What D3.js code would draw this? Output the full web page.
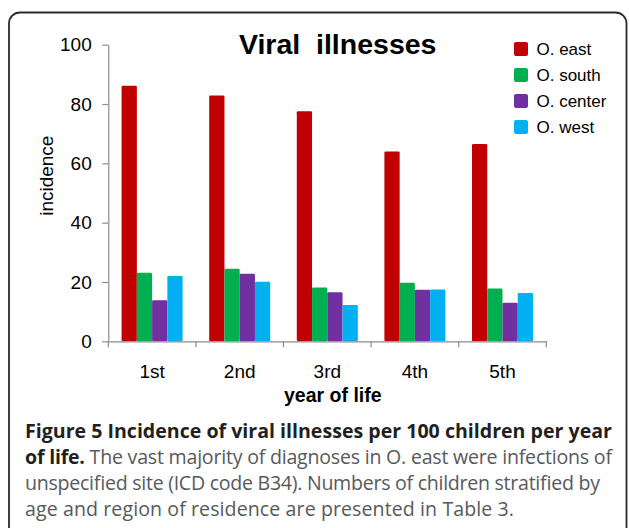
<!DOCTYPE html>
<html>
<head>
<meta charset="utf-8">
<script src="https://cdn.jsdelivr.net/npm/d3@7"></script>
<style>
  html, body { margin: 0; padding: 0; background: #fff; }
  svg { display: block; }
</style>
</head>
<body>
<svg id="chart" width="629" height="528"></svg>
<script>
// ---- data ----
const categories = ["1st", "2nd", "3rd", "4th", "5th"];
const seriesNames = ["O. east", "O. south", "O. center", "O. west"];
const eastValues   = [86.2, 82.9, 77.6, 64.0, 66.5];
const southValues  = [23.1, 24.5, 18.1, 19.7, 17.8];
const centerValues = [13.8, 22.8, 16.5, 17.4, 13.0];
const westValues   = [22.0, 20.1, 12.2, 17.5, 16.3];
const seriesColors = ["#C00000", "#00B050", "#7030A0", "#00B0F0"];
const yTicks = [0, 20, 40, 60, 80, 100];
const chartTitle = "Viral  illnesses";
const xTitle = "year of life";
const yTitle = "incidence";
const captionBold1 = "Figure 5 Incidence of viral illnesses per 100 children per year";
const captionBold2 = "of life.";
const captionRest2 = " The vast majority of diagnoses in O. east were infections of";
const captionLine3 = "unspecified site (ICD code B34). Numbers of children stratified by";
const captionLine4 = "age and region of residence are presented in Table 3.";

const seriesValues = [eastValues, southValues, centerValues, westValues];

const svg = d3.select("#chart");
const chartFont = "'Liberation Sans', Arial, Helvetica, sans-serif";

// frame
svg.append("rect")
  .attr("x", 9).attr("y", 12.5)
  .attr("width", 617.5).attr("height", 580)
  .attr("rx", 11).attr("ry", 11)
  .attr("fill", "none").attr("stroke", "#2b2b2b").attr("stroke-width", 1.8);

// scales
const x = d3.scaleBand().domain(categories).range([108.3, 546.3]).paddingInner(0).paddingOuter(0);
const xs = d3.scaleBand().domain(seriesNames).range([0, x.bandwidth()]).paddingInner(0).paddingOuter(0.872);
const y = d3.scaleLinear().domain([0, 100]).range([341.3, 44.7]);

// bars
const g = svg.append("g");
categories.forEach((c, ci) => {
  seriesNames.forEach((s, si) => {
    const v = seriesValues[si][ci];
    g.append("rect")
      .attr("x", x(c) + xs(s))
      .attr("y", y(v))
      .attr("width", xs.bandwidth())
      .attr("height", y(0) - y(v))
      .attr("rx", 1.2)
      .attr("fill", seriesColors[si]);
  });
});

// y axis
const yAxis = svg.append("g")
  .attr("transform", `translate(${x.range()[0]},0)`)
  .call(d3.axisLeft(y).tickValues(yTicks).tickSize(6).tickSizeOuter(0).tickPadding(10.6));
yAxis.select(".domain").attr("stroke", "#8c8c8c").attr("stroke-width", 1.2);
yAxis.selectAll(".tick line").attr("stroke", "#8c8c8c").attr("stroke-width", 1.2);
yAxis.selectAll(".tick text")
  .attr("font-family", chartFont).attr("font-size", 19).attr("fill", "#000");

// x axis
const xAxis = svg.append("g")
  .attr("transform", `translate(0,${y(0)})`)
  .call(d3.axisBottom(x).tickSize(0).tickSizeOuter(0).tickPadding(23));
xAxis.select(".domain").attr("stroke", "#8c8c8c").attr("stroke-width", 1.2);
xAxis.selectAll(".tick text")
  .attr("font-family", chartFont).attr("font-size", 19).attr("fill", "#000");
const bounds = categories.map(c => x(c)).concat([x.range()[1]]);
xAxis.selectAll(".bound").data(bounds).enter().append("line")
  .attr("x1", d => d).attr("x2", d => d)
  .attr("y1", 0).attr("y2", 6)
  .attr("stroke", "#8c8c8c").attr("stroke-width", 1.2);

// titles
svg.append("text")
  .attr("x", 337.7).attr("y", 53.5)
  .attr("text-anchor", "middle")
  .attr("font-family", chartFont).attr("font-weight", "bold").attr("font-size", 28.5)
  .style("white-space", "pre")
  .attr("fill", "#000")
  .text(chartTitle);

svg.append("text")
  .attr("x", 332.8).attr("y", 401.7)
  .attr("text-anchor", "middle")
  .attr("font-family", chartFont).attr("font-weight", "bold").attr("font-size", 19.5)
  .attr("fill", "#000")
  .text(xTitle);

svg.append("text")
  .attr("transform", "translate(52.5,175.7) rotate(-90)")
  .attr("text-anchor", "middle")
  .attr("font-family", chartFont).attr("font-size", 19)
  .attr("fill", "#000")
  .text(yTitle);

// legend
const legend = svg.append("g");
seriesNames.forEach((s, i) => {
  const cy = 49 + i * 26;
  legend.append("rect")
    .attr("x", 514).attr("y", cy - 7)
    .attr("width", 14).attr("height", 14)
    .attr("rx", 2).attr("fill", seriesColors[i]);
  legend.append("text")
    .attr("x", 536.5).attr("y", cy + 6)
    .attr("font-family", chartFont).attr("font-size", 17)
    .attr("fill", "#000")
    .text(s);
});

// caption
const capFont = "'Open Sans', 'Noto Sans', sans-serif";
const capX = 25;
const baselines = [438.3, 464, 490, 516];
const lineEnds = [612, 612, 600, 514];
const t1 = svg.append("text")
  .attr("x", capX).attr("y", baselines[0])
  .attr("font-family", capFont).attr("font-weight", "bold").attr("font-size", 17)
  .attr("fill", "#231f20")
  .text(captionBold1);
const w = t1.node().getComputedTextLength();
const capSize = 17 * (lineEnds[0] - capX) / w;
t1.attr("font-size", capSize);

const t2 = svg.append("text")
  .attr("x", capX).attr("y", baselines[1])
  .attr("font-family", capFont).attr("font-size", capSize)
  .style("white-space", "pre")
  .attr("textLength", lineEnds[1] - capX)
  .attr("lengthAdjust", "spacing");
t2.append("tspan").attr("font-weight", "bold").attr("fill", "#231f20").text(captionBold2);
t2.append("tspan").attr("fill", "#58595b").text(captionRest2);

[captionLine3, captionLine4].forEach((line, i) => {
  svg.append("text")
    .attr("x", capX).attr("y", baselines[i + 2])
    .attr("font-family", capFont).attr("font-size", capSize)
    .attr("fill", "#58595b")
    .attr("textLength", lineEnds[i + 2] - capX)
    .attr("lengthAdjust", "spacing")
    .text(line);
});
</script>
</body>
</html>
